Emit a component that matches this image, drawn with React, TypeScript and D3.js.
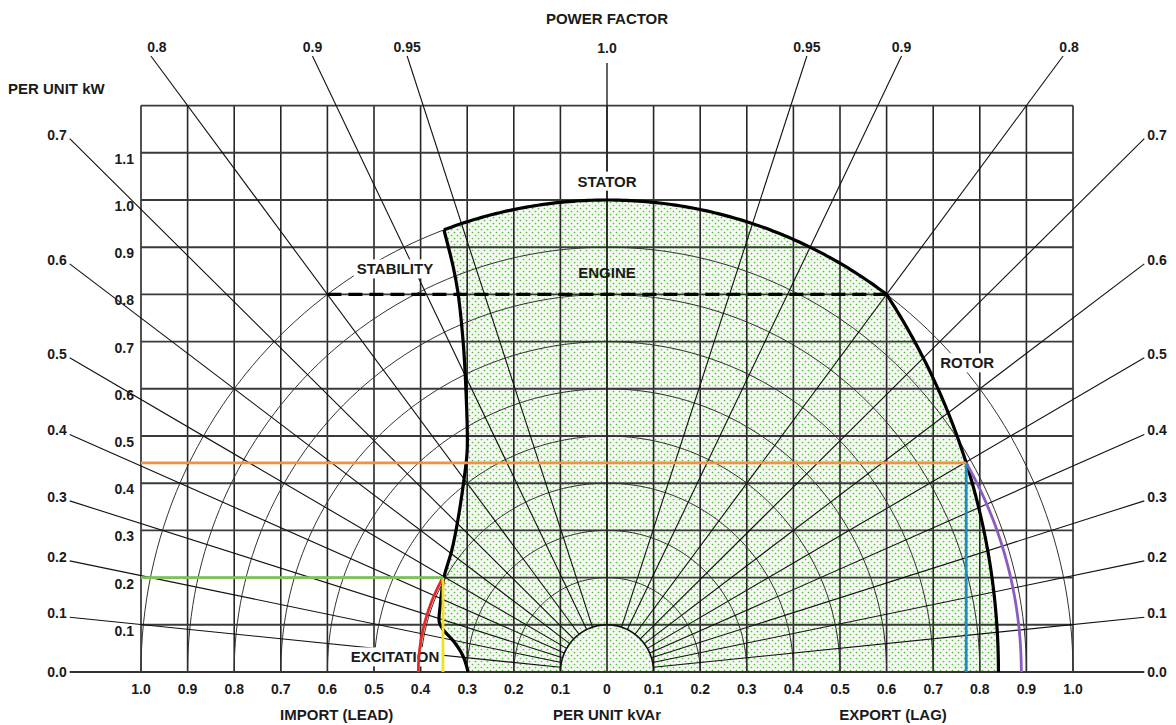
import React, { useRef, useEffect } from "react";
import * as d3 from "d3";

// axis ticks (per unit)
const kvarTicks = [-1.0, -0.9, -0.8, -0.7, -0.6, -0.5, -0.4, -0.3, -0.2, -0.1, 0, 0.1, 0.2, 0.3, 0.4, 0.5, 0.6, 0.7, 0.8, 0.9, 1.0];
const kwTicks = [0.1, 0.2, 0.3, 0.4, 0.5, 0.6, 0.7, 0.8, 0.9, 1.0, 1.1];
const kwGridLines = [0.1, 0.2, 0.3, 0.4, 0.5, 0.6, 0.7, 0.8, 0.9, 1.0, 1.1, 1.2];
const pfValues = [0.1, 0.2, 0.3, 0.4, 0.5, 0.6, 0.7, 0.8, 0.9, 0.95];
const arcRadii = [0.1, 0.2, 0.3, 0.4, 0.5, 0.6, 0.7, 0.8, 0.9, 1.0];

// capability limits
const statorLimit = 1.0;
const engineLimit = 0.8;
const engineFrom = -0.6;
const engineTo = 0.6;
const rotorCentre = -0.613;
const rotorRadius = 1.453;
// stability + excitation limit, top to bottom (kVAr, kW)
const leftLimit: [number, number][] = [
  [-0.35, 0.937],
  [-0.33, 0.858],
  [-0.32, 0.805],
  [-0.309, 0.703],
  [-0.303, 0.604],
  [-0.3, 0.47],
  [-0.307, 0.407],
  [-0.32, 0.322],
  [-0.333, 0.258],
  [-0.35, 0.2],
  [-0.358, 0.14],
  [-0.36, 0.106],
  [-0.352, 0.09],
  [-0.33, 0.066],
  [-0.309, 0.034],
  [-0.298, 0],
];

// operating points
const leadPoint: [number, number] = [-0.352, 0.2];
const lagKw = 0.443;

const FONT = "'Liberation Sans', Arial, sans-serif";

const App: React.FC = () => {
  const svgRef = useRef<SVGSVGElement | null>(null);

  useEffect(() => {
    const svg = d3.select(svgRef.current);
    svg.selectAll("*").remove();

    const x = d3.scaleLinear().domain([-1, 1]).range([141, 1073]);
    const y = d3.scaleLinear().domain([0, 1]).range([672, 200]);
    const line = d3.line<[number, number]>().x((d) => x(d[0])).y((d) => y(d[1]));
    const smooth = d3
      .line<[number, number]>()
      .x((d) => x(d[0]))
      .y((d) => y(d[1]))
      .curve(d3.curveCatmullRom);

    const arcPts = (cx: number, r: number, a0: number, a1: number, n = 120): [number, number][] =>
      d3.range(n + 1).map((i) => {
        const a = a0 + ((a1 - a0) * i) / n;
        return [cx + r * Math.cos(a), r * Math.sin(a)];
      });

    const defs = svg.append("defs");
    const pat = defs
      .append("pattern")
      .attr("id", "dots")
      .attr("patternUnits", "userSpaceOnUse")
      .attr("width", 6)
      .attr("height", 6);
    pat.append("rect").attr("width", 6).attr("height", 6).attr("fill", "#f2f9ef");
    pat.append("circle").attr("cx", 1.5).attr("cy", 1.5).attr("r", 0.85).attr("fill", "#5fb548");
    pat.append("circle").attr("cx", 4.5).attr("cy", 4.5).attr("r", 0.85).attr("fill", "#5fb548");

    // capability region
    const A = leftLimit[0];
    const aA = Math.atan2(A[1], A[0]);
    const B: [number, number] = [Math.sqrt(statorLimit ** 2 - engineLimit ** 2), engineLimit];
    const aB = Math.atan2(B[1], B[0]);
    const statorPts = arcPts(0, statorLimit, aA, aB);
    const aR = Math.atan2(B[1], B[0] - rotorCentre);
    const rotorPts = arcPts(rotorCentre, rotorRadius, aR, 0);
    const leftRev = leftLimit.slice().reverse();
    const regionPath =
      (line(statorPts.concat(rotorPts)) as string) + (smooth(leftRev) as string).replace(/^M/, "L") + "Z";
    svg.append("path").attr("d", regionPath).attr("fill", "url(#dots)");

    // grid
    const g = svg.append("g");
    kvarTicks.forEach((u) => {
      g.append("line")
        .attr("x1", x(u))
        .attr("x2", x(u))
        .attr("y1", y(0))
        .attr("y2", y(1.2))
        .attr("stroke", "#262626")
        .attr("stroke-width", 1.6);
    });
    kwGridLines.forEach((v) => {
      g.append("line")
        .attr("x1", x(-1))
        .attr("x2", x(1))
        .attr("y1", y(v))
        .attr("y2", y(v))
        .attr("stroke", "#3a3a3a")
        .attr("stroke-width", 1.9);
    });

    // concentric kVA arcs
    arcRadii.forEach((r) => {
      g.append("path")
        .attr("d", line(arcPts(0, r, 0, Math.PI)))
        .attr("fill", "none")
        .attr("stroke", r <= 0.1 ? "#111" : "#333")
        .attr("stroke-width", r <= 0.1 ? 1.6 : 1);
    });

    // power factor lines
    const sideU = 1.153;
    const topV = 1.305;
    const pfEnds: { pf: number; side: number; end: [number, number]; top: boolean }[] = [];
    [-1, 1].forEach((side) => {
      pfValues.forEach((pf) => {
        const th = Math.acos(pf);
        const s = Math.sin(th);
        const c = Math.cos(th);
        const tSide = sideU / s;
        const tTop = topV / c;
        const t = Math.min(tSide, tTop);
        const start: [number, number] = [side * 0.1 * s, 0.1 * c];
        const end: [number, number] = [side * t * s, t * c];
        g.append("line")
          .attr("x1", x(start[0]))
          .attr("y1", y(start[1]))
          .attr("x2", x(end[0]))
          .attr("y2", y(end[1]))
          .attr("stroke", "#111")
          .attr("stroke-width", 1.1);
        pfEnds.push({ pf, side, end, top: tTop < tSide });
      });
    });
    g.append("line")
      .attr("x1", x(0))
      .attr("x2", x(0))
      .attr("y1", y(0.1))
      .attr("y2", y(1.29))
      .attr("stroke", "#222")
      .attr("stroke-width", 1.4);
    g.append("line")
      .attr("x1", x(-sideU))
      .attr("x2", x(sideU))
      .attr("y1", y(0))
      .attr("y2", y(0))
      .attr("stroke", "#333")
      .attr("stroke-width", 2);

    // limit curves
    const bold = svg.append("g").attr("fill", "none").attr("stroke", "#000").attr("stroke-width", 3.2);
    bold.append("path").attr("d", line(statorPts));
    bold.append("path").attr("d", line(rotorPts));
    bold.append("path").attr("d", smooth(leftLimit));
    bold
      .append("line")
      .attr("x1", x(engineFrom))
      .attr("x2", x(engineTo))
      .attr("y1", y(engineLimit))
      .attr("y2", y(engineLimit))
      .attr("stroke-dasharray", "14 7");

    // text
    const txt = svg.append("g").attr("font-family", FONT).attr("font-weight", "bold").attr("fill", "#1a1a1a");
    const addText = (s: string, px: number, py: number, size: number, anchor = "middle", bg = false) => {
      const t = txt
        .append("text")
        .attr("x", px)
        .attr("y", py)
        .attr("font-size", size)
        .attr("text-anchor", anchor)
        .attr("dominant-baseline", "central")
        .text(s);
      if (bg) {
        const bb = (t.node() as SVGTextElement).getBBox();
        txt
          .insert("rect", () => t.node() as SVGTextElement)
          .attr("x", bb.x - 3)
          .attr("y", bb.y - 1)
          .attr("width", bb.width + 6)
          .attr("height", bb.height + 2)
          .attr("fill", "#fff");
      }
    };

    addText("POWER FACTOR", x(0), 18, 15);
    addText("PER UNIT kW", 8, 88, 15, "start");
    addText("IMPORT (LEAD)", x(-0.58), 714, 15);
    addText("PER UNIT kVAr", x(0), 714, 15);
    addText("EXPORT (LAG)", x(0.614), 714, 15);

    kvarTicks.forEach((u) => addText(u === 0 ? "0" : Math.abs(u).toFixed(1), x(u), 689, 14));
    kwTicks.forEach((v) => addText(v.toFixed(1), 134, y(v) + 6, 14, "end"));

    pfEnds.forEach(({ pf, side, end, top }) => {
      const s = pf === 0.95 ? "0.95" : pf.toFixed(1);
      if (top) addText(s, x(end[0]) + (pf === 0.8 ? 6 : 0), y(end[1]) - 9, 14);
      else addText(s, x(end[0]) + side * 3, y(end[1]) - 4, 14, side < 0 ? "end" : "start");
    });
    addText("1.0", x(0), 48, 14);
    addText("0.0", x(-sideU) - 3, y(0), 14, "end");
    addText("0.0", x(sideU) + 3, y(0), 14, "start");

    addText("STATOR", x(0), y(1.04), 15, "middle", true);
    addText("STABILITY", x(-0.455), y(0.854), 15, "middle", true);
    addText("ENGINE", x(0), y(0.847), 15);
    addText("ROTOR", x(0.773), y(0.655), 15, "middle", true);
    addText("EXCITATION", x(-0.455), y(0.032), 15, "middle", true);

    // operating point construction lines (on top)
    const lagU = rotorCentre + Math.sqrt(rotorRadius ** 2 - lagKw ** 2);
    const lagR = Math.hypot(lagU, lagKw);
    const leadR = Math.hypot(leadPoint[0], leadPoint[1]);
    const ops = svg.append("g").attr("fill", "none").attr("stroke-width", 2.8);
    ops.append("path").attr("d", line(arcPts(0, lagR, Math.atan2(lagKw, lagU), 0))).attr("stroke", "#8a5cc0");
    ops.append("path").attr("d", line(arcPts(0, leadR, Math.atan2(leadPoint[1], leadPoint[0]), Math.PI))).attr("stroke", "#e52a25");
    ops.append("path").attr("d", line([[lagU, lagKw], [lagU, 0]])).attr("stroke", "#1b8ccc");
    ops.append("path").attr("d", line([[leadPoint[0], leadPoint[1]], [leadPoint[0], 0]])).attr("stroke", "#f0e21c");
    ops.append("path").attr("d", line([[-1, lagKw], [lagU, lagKw]])).attr("stroke", "#f39140");
    ops.append("path").attr("d", line([[-1, leadPoint[1]], [leadPoint[0], leadPoint[1]]])).attr("stroke", "#7cc45a");
  }, []);

  return (
    <svg
      ref={svgRef}
      width={1176}
      height={725}
      style={{ position: "absolute", left: 0, top: 0, background: "#fff" }}
    ></svg>
  );
};

export default App;
